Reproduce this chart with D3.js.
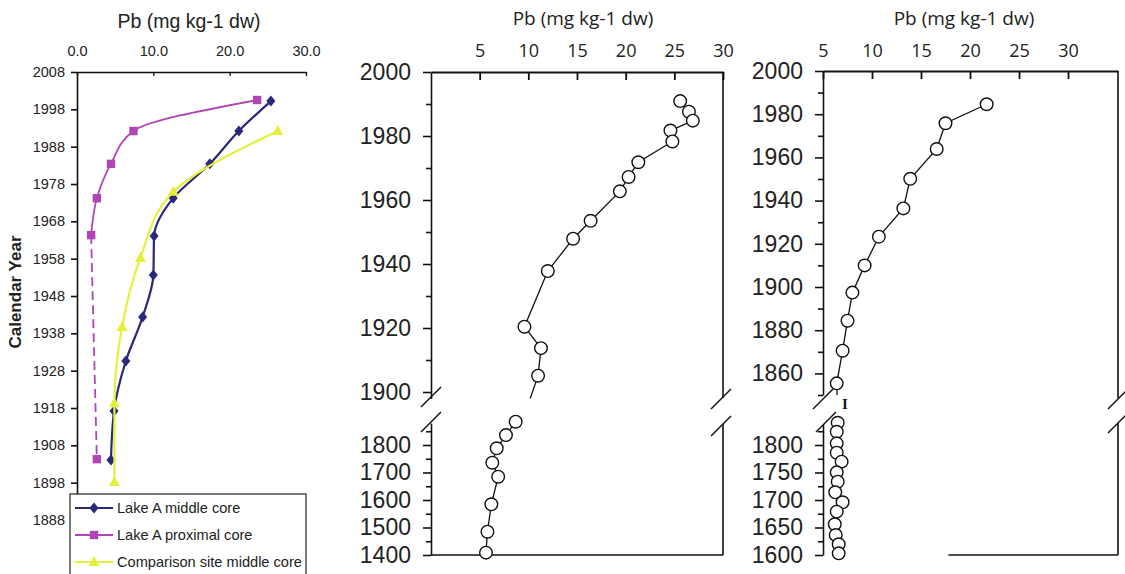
<!DOCTYPE html>
<html>
<head>
<meta charset="utf-8">
<script src="https://cdn.jsdelivr.net/npm/d3@7"></script>
<style>
  body { margin: 0; background: #fff; }
  svg { display: block; }
</style>
</head>
<body>
<svg id="chart" width="1125" height="574"></svg>
<script>
// ---- Panel A: Lake A cores and comparison site (mg/kg Pb vs calendar year)
const middleYear = [2000.2, 1992.2, 1983.4, 1974.2, 1964.1, 1953.6, 1942.4, 1930.6, 1917.2, 1904.1];
const middlePb   = [25.4, 21.2, 17.4, 12.6, 10.1, 10.0, 8.6, 6.4, 4.85, 4.45];
const proximalYear = [2000.5, 1992.2, 1983.4, 1974.2, 1964.3, 1904.3];
const proximalPb   = [23.6, 7.4, 4.45, 2.6, 1.85, 2.6];
const comparisonYear = [1992.2, 1975.9, 1958.2, 1939.7, 1919.3, 1898.2];
const comparisonPb   = [26.3, 12.6, 8.3, 5.9, 4.9, 4.9];
const panelAYearTicks = d3.range(1888, 2009, 10);
const panelAPbTicks = [0, 10, 20, 30];
const legendLabels = ["Lake A middle core", "Lake A proximal core", "Comparison site middle core"];

// ---- Panel B: long core, upper (recent) and lower (older) segments
const coreBUpperYear = [1990.9, 1987.6, 1984.8, 1981.7, 1978.3, 1971.8, 1967.2, 1962.7, 1953.5, 1947.9, 1937.8, 1920.4, 1913.7, 1905.1];
const coreBUpperPb   = [25.6, 26.5, 26.9, 24.6, 24.8, 21.3, 20.3, 19.4, 16.4, 14.6, 12.0, 9.6, 11.3, 11.0];
const coreBLowerYear = [1884.7, 1836, 1788, 1735.6, 1684.7, 1584.4, 1484.7, 1408.6];
const coreBLowerPb   = [8.7, 7.7, 6.75, 6.3, 6.9, 6.2, 5.8, 5.65];
const coreBPbTicks = [5, 10, 15, 20, 25, 30];

// ---- Panel C: second long core
const coreCUpperYear = [1984.6, 1975.8, 1963.9, 1950.1, 1936.4, 1923.3, 1910, 1897.4, 1884.4, 1870.5, 1855.4];
const coreCUpperPb   = [21.7, 17.5, 16.6, 13.9, 13.2, 10.7, 9.25, 8.0, 7.5, 7.0, 6.4];
const coreCLowerYear = [1840.5, 1824, 1803, 1786, 1769.7, 1750.3, 1733.3, 1714, 1695.8, 1678.8, 1655.8, 1636.4, 1619.5, 1603];
const coreCLowerPb   = [6.5, 6.4, 6.4, 6.4, 6.9, 6.4, 6.5, 6.25, 7.0, 6.4, 6.2, 6.3, 6.6, 6.6];
const coreCPbTicks = [5, 10, 15, 20, 25, 30];

const title = "Pb (mg kg-1 dw)";
const svg = d3.select("#chart");
const zip = (ys, xs) => ys.map((y, i) => ({ year: y, pb: xs[i] }));

const ARIAL = "'Liberation Sans', Arial, sans-serif";
const HUMAN = "'Open Sans', 'Noto Sans', sans-serif";

function styleAxis(g, w) {
  g.selectAll("path.domain").attr("stroke", "#111").attr("stroke-width", w);
  g.selectAll(".tick line").attr("stroke", "#111").attr("stroke-width", w);
}

// ================= Panel A =================
{
  const x = d3.scaleLinear([0, 30], [77, 306]);
  const y = d3.scaleLinear([1888, 2008], [520, 72]);
  const g = svg.append("g");

  const top = g.append("g").attr("transform", `translate(0,${y(2008)})`)
    .call(d3.axisTop(x).tickValues(panelAPbTicks).tickFormat(d3.format(".1f"))
      .tickSize(-4).tickSizeOuter(0).tickPadding(16));
  styleAxis(top, 1.3);
  top.selectAll("text").attr("font-family", ARIAL).attr("font-size", 14.5).attr("fill", "#222");

  const left = g.append("g").attr("transform", `translate(${x(0)},0)`)
    .call(d3.axisLeft(y).tickValues(panelAYearTicks).tickFormat(d3.format("d"))
      .tickSize(6).tickSizeOuter(0).tickPadding(6));
  styleAxis(left, 1.6);
  left.selectAll("text").attr("font-family", ARIAL).attr("font-size", 14.5).attr("fill", "#222");

  g.append("text").attr("x", 189).attr("y", 28).attr("text-anchor", "middle")
    .attr("font-family", ARIAL).attr("font-size", 19.5).attr("fill", "#222").text(title);
  g.append("text").attr("transform", "translate(21,292) rotate(-90)").attr("text-anchor", "middle")
    .attr("font-family", ARIAL).attr("font-size", 17).attr("font-weight", "bold").attr("fill", "#222")
    .text("Calendar Year");

  // smoothed series lines, monotone in year so the curve never overshoots
  const line = d3.line().x(d => x(d.pb)).y(d => y(d.year)).curve(d3.curveMonotoneY);

  const navy = "#2a2878", magenta = "#b046b4", yellow = "#e4f03c";
  const diamond = "M0,-5.5L4.5,0L0,5.5L-4.5,0Z";
  const square = "M-4.2,-4.2H4.2V4.2H-4.2Z";
  const tri = "M0,-6L5.5,4L-5.5,4Z";

  const mid = zip(middleYear, middlePb);
  const prox = zip(proximalYear, proximalPb);
  const comp = zip(comparisonYear, comparisonPb);

  g.append("path").attr("d", line(mid)).attr("fill", "none").attr("stroke", navy).attr("stroke-width", 2.2);
  g.selectAll(".mid").data(mid).join("path").attr("d", diamond)
    .attr("transform", d => `translate(${x(d.pb)},${y(d.year)})`).attr("fill", navy);

  g.append("path").attr("d", line(prox.slice(0, 5))).attr("fill", "none").attr("stroke", magenta).attr("stroke-width", 1.8);
  g.append("path").attr("d", d3.line().x(d => x(d.pb)).y(d => y(d.year))(prox.slice(4)))
    .attr("fill", "none").attr("stroke", magenta).attr("stroke-width", 1.8).attr("stroke-dasharray", "9,5");
  g.selectAll(".prox").data(prox).join("path").attr("d", square)
    .attr("transform", d => `translate(${x(d.pb)},${y(d.year)})`).attr("fill", magenta);

  g.append("path").attr("d", line(comp)).attr("fill", "none").attr("stroke", yellow).attr("stroke-width", 2.2);
  g.selectAll(".comp").data(comp).join("path").attr("d", tri)
    .attr("transform", d => `translate(${x(d.pb)},${y(d.year)})`).attr("fill", yellow);

  // legend
  const lg = g.append("g");
  lg.append("rect").attr("x", 70).attr("y", 494).attr("width", 236).attr("height", 95)
    .attr("fill", "#fff").attr("stroke", "#222").attr("stroke-width", 1.2);
  const items = [
    { c: navy, m: diamond },
    { c: magenta, m: square },
    { c: yellow, m: tri }
  ];
  items.forEach((it, i) => {
    const yy = 508 + i * 27;
    lg.append("line").attr("x1", 75).attr("x2", 113).attr("y1", yy).attr("y2", yy)
      .attr("stroke", it.c).attr("stroke-width", 2);
    lg.append("path").attr("d", it.m).attr("transform", `translate(94,${yy})`).attr("fill", it.c);
    lg.append("text").attr("x", 117).attr("y", yy + 5).attr("font-family", ARIAL).attr("font-size", 14.6)
      .attr("fill", "#222").text(legendLabels[i]);
  });
}

// ============ Broken-axis core panel (B and C) ============
function brokenPanel(opt) {
  const g = svg.append("g");
  const x = d3.scaleLinear(opt.xDomain, [opt.left, opt.right]);
  const yU = d3.scaleLinear(opt.upDomain, opt.upRange);
  const yL = d3.scaleLinear(opt.loDomain, opt.loRange);

  // top axis
  const top = g.append("g").attr("transform", `translate(0,${opt.top})`)
    .call(d3.axisTop(x).tickValues(opt.xTicks).tickSize(-8).tickSizeOuter(0).tickPadding(opt.xPad));
  styleAxis(top, 1.8);
  top.selectAll("text").attr("font-family", HUMAN).attr("font-size", 18).attr("fill", "#222");

  g.append("text").attr("x", opt.titleX).attr("y", 25).attr("text-anchor", "middle")
    .attr("font-family", HUMAN).attr("font-size", 19).attr("fill", "#222").text(title);

  // left axes, upper and lower segments
  const upAx = g.append("g").attr("transform", `translate(${opt.left},0)`)
    .call(d3.axisLeft(yU).tickValues(opt.upTicks).tickSize(8).tickSizeOuter(0).tickPadding(12)
      .tickFormat(d => opt.upLabels.includes(d) ? d : ""));
  const loAx = g.append("g").attr("transform", `translate(${opt.left},0)`)
    .call(d3.axisLeft(yL).tickValues(opt.loTicks).tickSize(8).tickSizeOuter(0).tickPadding(12)
      .tickFormat(d => opt.loLabels.includes(d) ? d : ""));
  [[upAx, opt.upLabels], [loAx, opt.loLabels]].forEach(([ax, labs]) => {
    styleAxis(ax, 1.6);
    ax.selectAll(".tick").filter(d => !labs.includes(d)).select("line").attr("x2", -5);
    ax.selectAll("text").attr("font-family", ARIAL).attr("font-size", 23).attr("fill", "#222");
  });

  // right frame with break, bottom line
  const seg = (x1, y1, x2, y2, w) => g.append("line").attr("x1", x1).attr("y1", y1).attr("x2", x2).attr("y2", y2)
    .attr("stroke", "#111").attr("stroke-width", w || 1.6);
  seg(opt.right, opt.top, opt.right, opt.rightBreak[0]);
  seg(opt.right, opt.rightBreak[1], opt.right, opt.bottom);
  seg(x(opt.bottomFrom), opt.bottom, opt.right, opt.bottom);

  // break slashes
  opt.slashes.forEach(([cx, cy]) => seg(cx - 10, cy + 10, cx + 10, cy - 10, 1.4));

  // upper series (line runs on toward the first older sample, clipped at the break)
  const clipId = opt.id + "-clip";
  g.append("clipPath").attr("id", clipId).append("rect")
    .attr("x", opt.left - 20).attr("y", opt.top).attr("width", opt.right - opt.left + 40)
    .attr("height", yU(opt.upDomain[0]) - opt.top);
  const up = zip(opt.upYear, opt.upPb);
  const lo = zip(opt.loYear, opt.loPb);
  const lineU = d3.line().x(d => x(d.pb)).y(d => yU(d.year));
  const lineL = d3.line().x(d => x(d.pb)).y(d => yL(d.year));
  g.append("path").attr("d", lineU(up.concat([lo[0]]))).attr("clip-path", `url(#${clipId})`)
    .attr("fill", "none").attr("stroke", "#111").attr("stroke-width", 1.3);
  if (opt.lowerLine) {
    g.append("path").attr("d", lineL(lo)).attr("fill", "none").attr("stroke", "#111").attr("stroke-width", 1.3);
  }
  g.selectAll(".pu").data(up).join("circle").attr("cx", d => x(d.pb)).attr("cy", d => yU(d.year))
    .attr("r", 6.3).attr("fill", "#fff").attr("stroke", "#111").attr("stroke-width", 1.4);
  g.selectAll(".pl").data(lo).join("circle").attr("cx", d => x(d.pb)).attr("cy", d => yL(d.year))
    .attr("r", 6.3).attr("fill", "#fff").attr("stroke", "#111").attr("stroke-width", 1.4);
  return { g, x, yU, yL };
}

brokenPanel({
  id: "coreB", left: 431, right: 723, top: 72, bottom: 555,
  xDomain: [0, 30], xTicks: coreBPbTicks, xPad: 15, titleX: 583,
  upDomain: [1898, 2000], upRange: [72 + 102 * 3.2, 72],
  upTicks: d3.range(1900, 2001, 10), upLabels: d3.range(1900, 2001, 20),
  loDomain: [1400, 1880], loRange: [555, 555 - 480 * 0.275],
  loTicks: d3.range(1400, 1851, 50), loLabels: d3.range(1400, 1801, 100),
  upYear: coreBUpperYear, upPb: coreBUpperPb, loYear: coreBLowerYear, loPb: coreBLowerPb,
  rightBreak: [398, 424], bottomFrom: 0, lowerLine: true,
  slashes: [[431, 397], [431, 422], [721, 399], [721, 426]]
});

const pc = brokenPanel({
  id: "coreC", left: 823, right: 1118, top: 71, bottom: 555,
  xDomain: [5, 35.1], xTicks: coreCPbTicks, xPad: 14, titleX: 964,
  upDomain: [1850, 2000], upRange: [71 + 150 * 2.16, 71],
  upTicks: d3.range(1850, 2001, 10), upLabels: d3.range(1860, 2001, 20),
  loDomain: [1600, 1838], loRange: [555, 555 - 238 * 0.55],
  loTicks: d3.range(1600, 1826, 25), loLabels: d3.range(1600, 1801, 50),
  upYear: coreCUpperYear, upPb: coreCUpperPb, loYear: coreCLowerYear, loPb: coreCLowerPb,
  rightBreak: [398, 423], bottomFrom: 17.8, lowerLine: false,
  slashes: [[823, 399], [826, 422], [1118, 399], [1118, 423]]
});
pc.g.append("text").attr("x", 845).attr("y", 409).attr("text-anchor", "middle")
  .attr("font-family", "'Liberation Serif', serif").attr("font-weight", "bold").attr("font-size", 15)
  .attr("fill", "#111").text("I");
</script>
</body>
</html>
